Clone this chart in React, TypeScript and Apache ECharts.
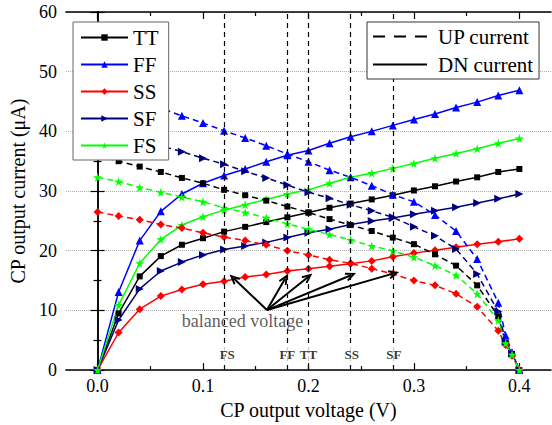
import React, { useEffect, useRef } from "react";
import * as echarts from "echarts";

const SERIF = '"Liberation Serif", "Times New Roman", serif';

// x positions of sampled points
const X_DN = [0, 0.02, 0.04, 0.06, 0.08, 0.1, 0.12, 0.14, 0.16, 0.18, 0.2, 0.22, 0.24, 0.26, 0.28, 0.3, 0.32, 0.34, 0.36, 0.38, 0.4];
const X_UP = [0, 0.02, 0.04, 0.06, 0.08, 0.1, 0.12, 0.14, 0.16, 0.18, 0.2, 0.22, 0.24, 0.26, 0.28, 0.3, 0.32, 0.34, 0.36, 0.38, 0.387, 0.393, 0.4];

// DN current (solid)
const TT_DN = [0, 9.5, 15.7, 19.1, 21.0, 22.1, 23.2, 24.0, 24.8, 25.6, 26.4, 27.2, 27.9, 28.6, 29.3, 30.1, 30.8, 31.6, 32.3, 33.2, 33.7];
const FF_DN = [0, 13.1, 21.7, 26.6, 29.5, 31.3, 32.6, 33.7, 34.9, 36.0, 36.8, 38.0, 39.1, 40.0, 41.0, 42.0, 42.9, 44.0, 44.9, 46.0, 46.9];
const SS_DN = [0, 6.3, 10.2, 12.4, 13.5, 14.4, 14.9, 15.6, 16.0, 16.6, 17.0, 17.4, 17.8, 18.3, 19.0, 19.6, 20.1, 20.6, 21.1, 21.5, 22.0];
const SF_DN = [0, 8.4, 13.6, 16.6, 18.1, 19.3, 20.2, 20.8, 21.4, 22.2, 23.0, 23.6, 24.4, 25.0, 25.5, 26.1, 26.7, 27.3, 28.0, 28.7, 29.5];
const FS_DN = [0, 10.9, 17.9, 21.9, 24.3, 25.7, 26.8, 27.7, 28.6, 29.5, 30.2, 31.3, 32.3, 33.0, 33.8, 34.6, 35.5, 36.3, 37.1, 38.0, 38.8];

// UP current (dashed)
const TT_UP = [35.9, 35.0, 34.1, 33.2, 32.2, 31.3, 30.2, 29.3, 28.4, 27.4, 26.4, 25.3, 24.3, 23.3, 22.2, 21.1, 19.4, 17.5, 14.2, 9.0, 4.6, 2.7, 0];
const FF_UP = [47.0, 46.1, 45.1, 43.9, 42.6, 41.4, 40.1, 38.9, 37.6, 36.2, 34.9, 33.5, 32.3, 30.9, 29.4, 28.2, 26.0, 23.3, 18.6, 11.3, 5.8, 3.0, 0];
const SS_UP = [26.5, 25.8, 25.2, 24.4, 23.8, 23.0, 22.3, 21.7, 21.0, 20.0, 19.3, 18.5, 17.9, 17.0, 16.1, 15.0, 14.2, 12.8, 10.6, 6.6, 4.2, 2.4, 0];
const SF_UP = [40.3, 39.5, 38.6, 37.6, 36.6, 35.5, 34.5, 33.3, 32.2, 31.0, 29.8, 28.8, 27.7, 26.7, 25.6, 24.0, 22.5, 20.3, 16.1, 9.8, 4.8, 2.8, 0];
const FS_UP = [32.3, 31.6, 30.6, 29.8, 29.0, 28.2, 27.2, 26.4, 25.5, 24.5, 23.6, 22.7, 21.8, 20.8, 20.0, 18.9, 17.5, 15.9, 12.8, 8.3, 4.5, 2.6, 0];

const CORNERS = ["TT", "FF", "SS", "SF", "FS"];
const COLORS = ["#000000", "#0000ff", "#ff0000", "#00007f", "#00ff00"];
const STAR = "path://M50,0 L61,35 L98,35 L68,57 L79,91 L50,70 L21,91 L32,57 L2,35 L39,35 Z";
const SYMBOLS = ["rect", "triangle", "diamond", "triangle", STAR];
const SYMBOL_SIZES = [6, 8, 8, 8, 9];
const SYMBOL_ROTATE = [0, 0, 0, -90, 0];

// balanced-voltage markers
const VLINE_X = [0.123, 0.18, 0.2, 0.241, 0.281];
const VLINE_LABELS = ["FS", "FF", "TT", "SS", "SF"];
const VLABEL_Y = 2.65;

// annotation
const ANNOT_TEXT = "balanced voltage";
const ANNOT_POS = [0.1374, 8.3];
const ARROW_FROM = [0.1606, 10.06];
const ARROW_TO = [
  [0.129, 15.4],
  [0.1778, 15.3],
  [0.1996, 15.6],
  [0.2403, 15.9],
  [0.281, 16.2],
];

const X_TICKS_MAJOR = [0, 0.1, 0.2, 0.3, 0.4];
const X_TICKS_MINOR = [0.05, 0.15, 0.25, 0.35];

const ARROW_HEAD = "path://M5,0 L10,9 L8.2,10 L5,4.2 L1.8,10 L0,9 Z";
const DASH_ICON = "path://M0,0h12v2h-12Z M21,0h12v2h-12Z M42,0h12v2h-12Z";

export default function App() {
  const ref = useRef<HTMLDivElement>(null);
  useEffect(() => {
    if (!ref.current) return;
    const chart = echarts.init(ref.current, undefined, { renderer: "svg" });
    const DN = [TT_DN, FF_DN, SS_DN, SF_DN, FS_DN];
    const UP = [TT_UP, FF_UP, SS_UP, SF_UP, FS_UP];

    const dnSeries = CORNERS.map((name, i) => ({
      name,
      type: "line",
      data: X_DN.map((x, j) => [x, DN[i][j]]),
      symbol: SYMBOLS[i],
      symbolSize: SYMBOL_SIZES[i],
      symbolRotate: SYMBOL_ROTATE[i],
      showAllSymbol: true,
      color: COLORS[i],
      lineStyle: { color: COLORS[i], width: 1.5 },
      itemStyle: { color: COLORS[i] },
      z: 3,
    }));
    const upSeries = CORNERS.map((name, i) => ({
      name: name + " up",
      type: "line",
      data: X_UP.map((x, j) => [x, UP[i][j]]),
      symbol: SYMBOLS[i],
      symbolSize: SYMBOL_SIZES[i],
      symbolRotate: SYMBOL_ROTATE[i],
      showAllSymbol: true,
      color: COLORS[i],
      lineStyle: { color: COLORS[i], width: 1.5, type: [6, 4] },
      itemStyle: { color: COLORS[i] },
      z: 3,
    }));

    const axisLine = { show: true, lineStyle: { color: "#000", width: 1.5 } };
    const tickStyle = { color: "#000", width: 1.2 };
    const baseX = { type: "value", min: -0.03, max: 0.43, splitLine: { show: false } };

    chart.setOption({
      animation: false,
      textStyle: { fontFamily: SERIF, color: "#000" },
      grid: { left: 63, right: 1, top: 12, bottom: 51 },
      legend: [
        {
          data: CORNERS,
          orient: "vertical",
          left: 73,
          top: 22,
          padding: [5, 10, 4, 7],
          itemGap: 6,
          itemWidth: 47,
          itemHeight: 8,
          backgroundColor: "#fff",
          borderColor: "#666",
          borderWidth: 1,
          selectedMode: false,
          textStyle: { fontFamily: SERIF, fontSize: 21, color: "#000", lineHeight: 20 },
          z: 10,
        },
        {
          data: [
            { name: "UP current", icon: DASH_ICON },
            { name: "DN current", icon: "rect" },
          ],
          orient: "vertical",
          left: 367,
          top: 22,
          padding: [4, 6, 4, 6],
          itemGap: 7,
          itemWidth: 54,
          itemHeight: 2,
          backgroundColor: "#fff",
          borderColor: "#333",
          borderWidth: 1,
          selectedMode: false,
          itemStyle: { color: "#000" },
          textStyle: { fontFamily: SERIF, fontSize: 21, color: "#000", lineHeight: 20, padding: [0, 0, 0, 6] },
          z: 10,
        },
      ],
      xAxis: [
        {
          ...baseX,
          position: "bottom",
          name: "CP output voltage (V)",
          nameLocation: "middle",
          nameGap: 26,
          nameTextStyle: { fontFamily: SERIF, fontSize: 20, color: "#000" },
          axisLine,
          axisTick: { show: true, inside: true, length: 7, lineStyle: tickStyle, customValues: X_TICKS_MAJOR },
          axisLabel: {
            show: true,
            customValues: X_TICKS_MAJOR,
            formatter: (v: number) => v.toFixed(1),
            fontFamily: SERIF,
            fontSize: 18,
            color: "#000",
            margin: 7,
          },
        },
        {
          ...baseX,
          position: "bottom",
          axisLine: { show: false },
          axisTick: { show: true, inside: true, length: 4, lineStyle: tickStyle, customValues: X_TICKS_MINOR },
          axisLabel: { show: false },
        },
        {
          ...baseX,
          position: "top",
          axisLine,
          axisTick: { show: true, inside: true, length: 7, lineStyle: tickStyle, customValues: X_TICKS_MAJOR },
          axisLabel: { show: false },
        },
        {
          ...baseX,
          position: "top",
          axisLine: { show: false },
          axisTick: { show: true, inside: true, length: 4, lineStyle: tickStyle, customValues: X_TICKS_MINOR },
          axisLabel: { show: false },
        },
      ],
      yAxis: [
        {
          type: "value",
          min: 0,
          max: 60,
          interval: 10,
          position: "left",
          name: "CP output current (\u03bcA)",
          nameLocation: "middle",
          nameGap: 35,
          nameTextStyle: { fontFamily: SERIF, fontSize: 20, color: "#000" },
          axisLine,
          axisTick: { show: true, inside: true, length: 7, lineStyle: tickStyle },
          minorTick: { show: true, splitNumber: 2, length: 4, lineStyle: tickStyle },
          axisLabel: { fontFamily: SERIF, fontSize: 18, color: "#000", margin: 9 },
          splitLine: { show: true, lineStyle: { color: "#aaa", type: "dotted", width: 1 } },
        },
        {
          type: "value",
          min: 0,
          max: 60,
          interval: 10,
          position: "right",
          axisLine,
          axisTick: { show: true, inside: true, length: 7, lineStyle: tickStyle },
          minorTick: { show: true, splitNumber: 2, length: 4, lineStyle: tickStyle },
          axisLabel: { show: false },
          splitLine: { show: false },
        },
      ],
      series: [
        ...dnSeries,
        ...upSeries,
        {
          name: "UP current",
          type: "line",
          data: [],
          symbol: "circle",
          color: "#000",
          itemStyle: { color: "#000" },
          lineStyle: { color: "#000", width: 2, type: [10, 7] },
        },
        {
          name: "DN current",
          type: "line",
          data: [],
          symbol: "circle",
          color: "#000",
          itemStyle: { color: "#000" },
          lineStyle: { color: "#000", width: 2 },
        },
        {
          name: "vlines",
          type: "scatter",
          data: [],
          z: 1,
          markLine: {
            silent: true,
            symbol: ["none", "none"],
            label: { show: false },
            lineStyle: { color: "#000", width: 1.2, type: [5, 4] },
            emphasis: { disabled: true },
            data: VLINE_X.map((x) => ({ xAxis: x })),
          },
        },
        {
          name: "arrows",
          type: "scatter",
          data: [],
          z: 6,
          markLine: {
            silent: true,
            symbol: ["none", ARROW_HEAD],
            symbolSize: [9, 11],
            label: { show: false },
            lineStyle: { color: "#000", width: 2, type: "solid" },
            emphasis: { disabled: true },
            data: ARROW_TO.map((t) => [{ coord: ARROW_FROM }, { coord: t }]),
          },
        },
        {
          name: "vlabels",
          type: "scatter",
          z: 7,
          symbolSize: 1,
          itemStyle: { color: "rgba(0,0,0,0)" },
          silent: true,
          data: VLINE_X.map((x, i) => [x, VLABEL_Y, VLINE_LABELS[i]]),
          label: {
            show: true,
            position: "inside",
            formatter: (p: any) => p.value[2],
            fontFamily: SERIF,
            fontWeight: "bold",
            fontSize: 13,
            color: "#000",
            backgroundColor: "#fff",
            padding: [1, 1],
          },
        },
        {
          name: "annot",
          type: "scatter",
          z: 7,
          symbolSize: 1,
          itemStyle: { color: "rgba(0,0,0,0)" },
          silent: true,
          data: [[ANNOT_POS[0], ANNOT_POS[1], ANNOT_TEXT]],
          label: {
            show: true,
            position: "inside",
            formatter: (p: any) => p.value[2],
            fontFamily: SERIF,
            fontSize: 18,
            color: "#333",
          },
        },
      ],
    });
    return () => chart.dispose();
  }, []);
  return (
    <div
      ref={ref}
      style={{ position: "fixed", left: 0, top: 0, width: 552, height: 425, background: "#fff" }}
    />
  );
}
